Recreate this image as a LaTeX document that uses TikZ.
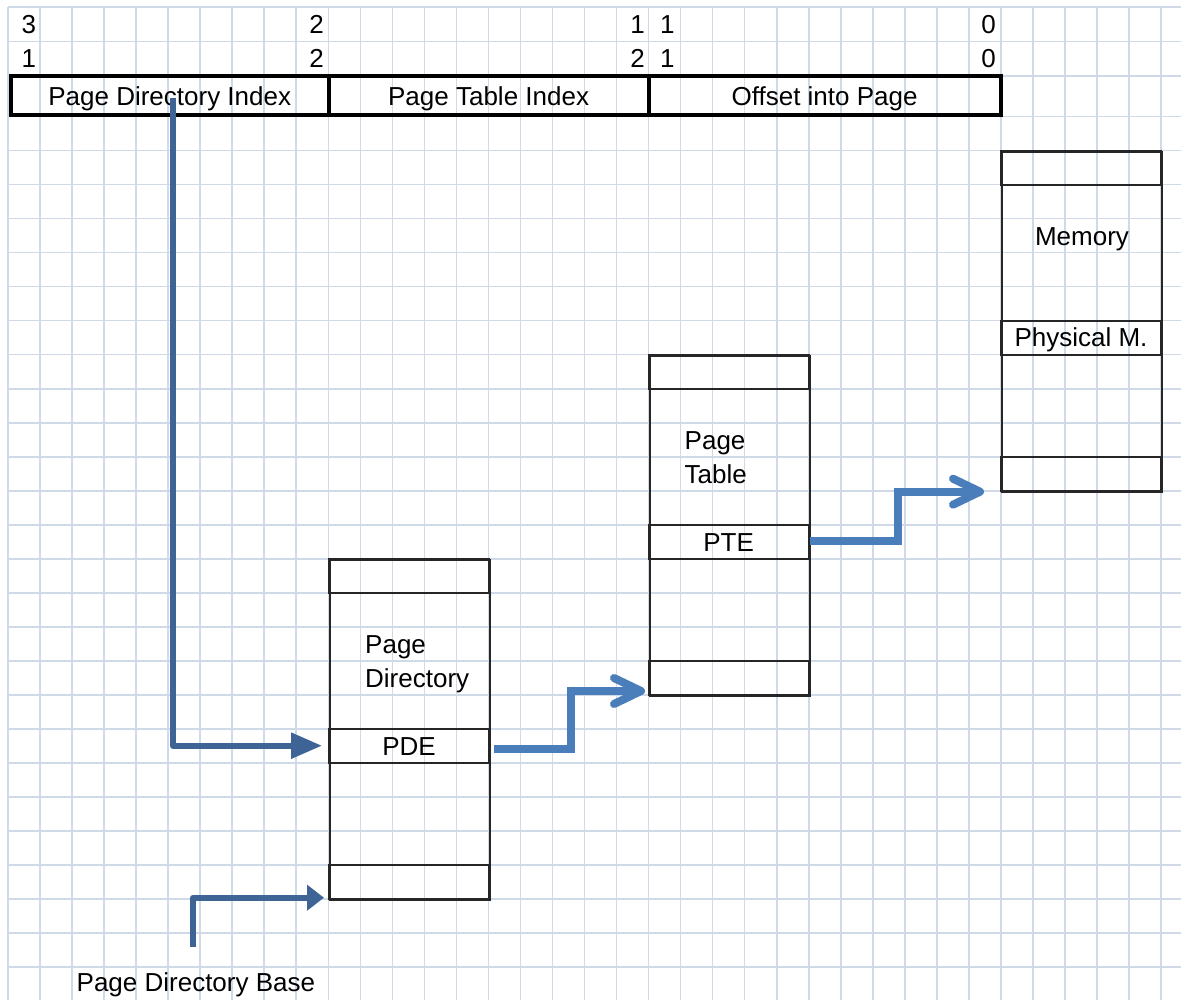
\documentclass[tikz,border=0pt]{standalone}
\usepackage{fontspec}
\setmainfont{Liberation Sans}
\usetikzlibrary{arrows.meta}
\definecolor{gridc}{RGB}{208,217,231}
\definecolor{darkarrow}{RGB}{62,100,150}
\definecolor{lightarrow}{RGB}{74,126,187}
\definecolor{boxline}{RGB}{38,38,38}
\tikzset{
  gridline/.style={draw=gridc, line width=1.6pt},
  txt/.style={font=\fontsize{26}{30}\selectfont, inner sep=0pt, text height=18.6pt, text depth=0pt},
  field/.style={txt, draw=black, line width=4pt, minimum height=39.5pt},
  tbl/.style={draw=boxline, line width=2pt, minimum width=160pt, minimum height=340pt, inner sep=0pt, anchor=north west},
  rowbox/.style={txt, draw=boxline, line width=2pt, minimum width=160pt, minimum height=34pt},
  darkarr/.style={draw=darkarrow, line width=5.8pt, line join=round},
  lightarr/.style={draw=lightarrow, line width=8pt, line join=miter,
    -{Straight Barb[length=27pt,width=26pt,line cap=round,line join=round]}},
}
\begin{document}
\begin{tikzpicture}[x=1pt,y=-1pt]
\fill[white] (0,0) rectangle (1181,1000);
\useasboundingbox (0,0) rectangle (1181,1000);
% grid
\foreach \i in {0,...,36} \draw[gridline] ({8+32.03*\i},7) -- ({8+32.03*\i},1000);
\foreach \yy in {7,41.5,76} \draw[gridline] (8,\yy) -- (1181,\yy);
\foreach \k in {0,...,25} \draw[gridline] (8,{116.7+34*\k}) -- (1181,{116.7+34*\k});

% bit numbers
\node[txt, anchor=west] (b31a) at (21.5,24.5) {3};
\node[txt, anchor=west] (b31b) at (21.5,58.3) {1};
\node[txt, anchor=east] (b22a) at (324,24.5) {2};
\node[txt, anchor=east] (b22b) at (324,58.3) {2};
\node[txt, anchor=east] (b12a) at (645,24.5) {1};
\node[txt, anchor=east] (b12b) at (645,58.3) {2};
\node[txt, anchor=west] (b11a) at (660,24.5) {1};
\node[txt, anchor=west] (b11b) at (660,58.3) {1};
\node[txt, anchor=east] (b0a) at (996,24.5) {0};
\node[txt, anchor=east] (b0b) at (996,58.3) {0};

% address fields
\node[field, minimum width=317.5pt] (pdi) at (169.75,95.75) {Page Directory Index};
\node[field, minimum width=320.2pt] (pti) at (488.6,95.75) {Page Table Index};
\node[field, minimum width=351.8pt] (off) at (824.6,95.75) {Offset into Page};

% page directory
\node[tbl] (pd) at (329,558.7) {};
\node[rowbox] (pdfirst) at (409,575.7) {};
\node[txt, anchor=west] (pdlbl1) at (365,643.7) {Page};
\node[txt, anchor=west] (pdlbl2) at (365,677.7) {Directory};
\node[rowbox] (pde) at (409,745.7) {PDE};
\node[rowbox] (pdlast) at (409,881.7) {};

% page table
\node[tbl] (pt) at (648.6,354.7) {};
\node[rowbox] (ptfirst) at (728.6,371.7) {};
\node[txt, anchor=west] (ptlbl1) at (684.5,439.7) {Page};
\node[txt, anchor=west] (ptlbl2) at (684.5,473.7) {Table};
\node[rowbox] (pte) at (728.6,541.7) {PTE};
\node[rowbox] (ptlast) at (728.6,677.7) {};

% memory
\node[tbl] (mem) at (1001,150.7) {};
\node[rowbox] (memfirst) at (1081,167.7) {};
\node[txt] (memlbl) at (1082,236.5) {Memory};
\node[rowbox] (phys) at (1081,337.7) {Physical M.};
\node[rowbox] (memlast) at (1081,473.7) {};

% base label
\node[txt, anchor=west] (pdb) at (76.5,982.5) {Page Directory Base};

% connectors
\coordinate (pdisrc) at (173,98);
\draw[darkarr, -{Triangle[length=31pt,width=25pt]}] (pdisrc) |- ([xshift=-6pt]pde.west);
\coordinate (pdbsrc) at (192.7,946.7);
\draw[darkarr, -{Triangle[length=17pt,width=25pt]}] (pdbsrc) |- ([xshift=-4pt,yshift=2pt]pdlast.south west);
\draw[lightarr] ([xshift=4pt,yshift=-3.3pt]pde.east) -- ++(77,0) |- ([xshift=-2.6pt,yshift=4.7pt]ptlast.south west);
\draw[lightarr] ([xshift=0.5pt,yshift=0.7pt]pte.east) -- ++(88,0) |- ([xshift=-16pt]memlast.south west);
\end{tikzpicture}
\end{document}
